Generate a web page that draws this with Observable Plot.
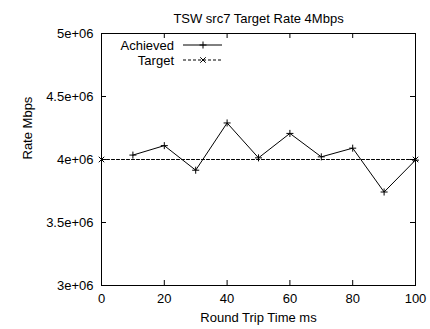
<!DOCTYPE html>
<html><head><meta charset="utf-8">
<script src="https://cdn.jsdelivr.net/npm/d3@7"></script>
<script src="https://cdn.jsdelivr.net/npm/@observablehq/plot@0.6"></script>
<style>
body{margin:0;background:#fff}
#chart{position:relative;width:430px;height:329px}
#legend{position:absolute;left:0;top:0;pointer-events:none}
</style>
</head><body><div id="chart"></div>
<script>
const title = "TSW src7 Target Rate 4Mbps";
const xLabel = "Round Trip Time ms";
const yLabel = "Rate Mbps";
const rtt = [10, 20, 30, 40, 50, 60, 70, 80, 90, 100];
const achieved = [4.035e6, 4.11e6, 3.915e6, 4.29e6, 4.013e6, 4.207e6, 4.021e6, 4.09e6, 3.742e6, 3.995e6];
const targetRtt = [0, 100];
const targetRate = [4e6, 4e6];
const xTicks = [0, 20, 40, 60, 80, 100];
const yTicks = [3e6, 3.5e6, 4e6, 4.5e6, 5e6];
const yTickLabels = ["3e+06", "3.5e+06", "4e+06", "4.5e+06", "5e+06"];
const seriesNames = ["Achieved", "Target"];

const W = 430, H = 329, mL = 101, mR = 15, mT = 33, mB = 44;
const fw = W - mL - mR, fh = H - mT - mB, tk = 5;
const font = "'Liberation Sans', Arial, Helvetica, sans-serif";
const fs = 13;
const plusR = 2.4, timesR = 2.6;

const achData = rtt.map((x, i) => ({x, y: achieved[i]}));
const tgtData = targetRtt.map((x, i) => ({x, y: targetRate[i]}));

const plot = Plot.plot({
  width: W, height: H,
  marginLeft: mL, marginRight: mR, marginTop: mT, marginBottom: mB,
  style: {fontFamily: font, fontSize: fs + "px", color: "#000", background: "#fff"},
  x: {domain: [0, 100]},
  y: {domain: [3e6, 5e6]},
  marks: [
    Plot.tickX(xTicks, {x: d => d, insetTop: fh - tk, stroke: "#000"}),
    Plot.tickX(xTicks, {x: d => d, insetBottom: fh - tk, stroke: "#000"}),
    Plot.tickY(yTicks, {y: d => d, insetRight: fw - tk, stroke: "#000"}),
    Plot.tickY(yTicks, {y: d => d, insetLeft: fw - tk, stroke: "#000"}),
    Plot.axisX(xTicks, {tickSize: 0, tickPadding: 8, label: null, fontSize: fs, tickFormat: d => String(d)}),
    Plot.axisY(yTicks, {tickSize: 0, tickPadding: 8, label: null, fontSize: fs, tickFormat: d => yTickLabels[yTicks.indexOf(d)]}),
    Plot.line(tgtData, {x: "x", y: "y", stroke: "#000", strokeWidth: 1, strokeDasharray: "3,2"}),
    Plot.dot(tgtData, {x: "x", y: "y", symbol: "times", r: timesR, stroke: "#000", strokeWidth: 1}),
    Plot.line(achData, {x: "x", y: "y", stroke: "#000", strokeWidth: 1}),
    Plot.dot(achData, {x: "x", y: "y", symbol: "plus", r: plusR, stroke: "#000", strokeWidth: 1}),
    Plot.frame({stroke: "#000", strokeWidth: 1}),
    Plot.text([title], {text: d => d, frameAnchor: "top", dy: -20, fontSize: fs}),
    Plot.text([xLabel], {text: d => d, frameAnchor: "bottom", dy: 36, fontSize: fs}),
    Plot.text([yLabel], {text: d => d, frameAnchor: "left", rotate: -90, dx: -74, fontSize: fs})
  ]
});
const chart = document.getElementById("chart");
chart.appendChild(plot);

// legend (inside top-left, gnuplot style)
const lg = d3.select(chart).append("svg").attr("id", "legend")
  .attr("width", W).attr("height", H)
  .style("font-family", font).style("font-size", fs + "px");
const rows = [
  {name: seriesNames[0], y: 45, dash: null, sym: d3.symbolPlus, r: plusR},
  {name: seriesNames[1], y: 60, dash: "3,2", sym: d3.symbolTimes, r: timesR}
];
rows.forEach(r => {
  lg.append("text").attr("x", 174).attr("y", r.y).attr("dy", "0.35em")
    .attr("text-anchor", "end").attr("fill", "#000").text(r.name);
  lg.append("line").attr("x1", 183).attr("x2", 222).attr("y1", r.y).attr("y2", r.y)
    .attr("stroke", "#000").attr("stroke-width", 1).attr("stroke-dasharray", r.dash);
  lg.append("path").attr("transform", `translate(203,${r.y})`)
    .attr("d", d3.symbol(r.sym, Math.PI * r.r * r.r)())
    .attr("fill", "none").attr("stroke", "#000").attr("stroke-width", 1);
});
</script>
</body></html>
